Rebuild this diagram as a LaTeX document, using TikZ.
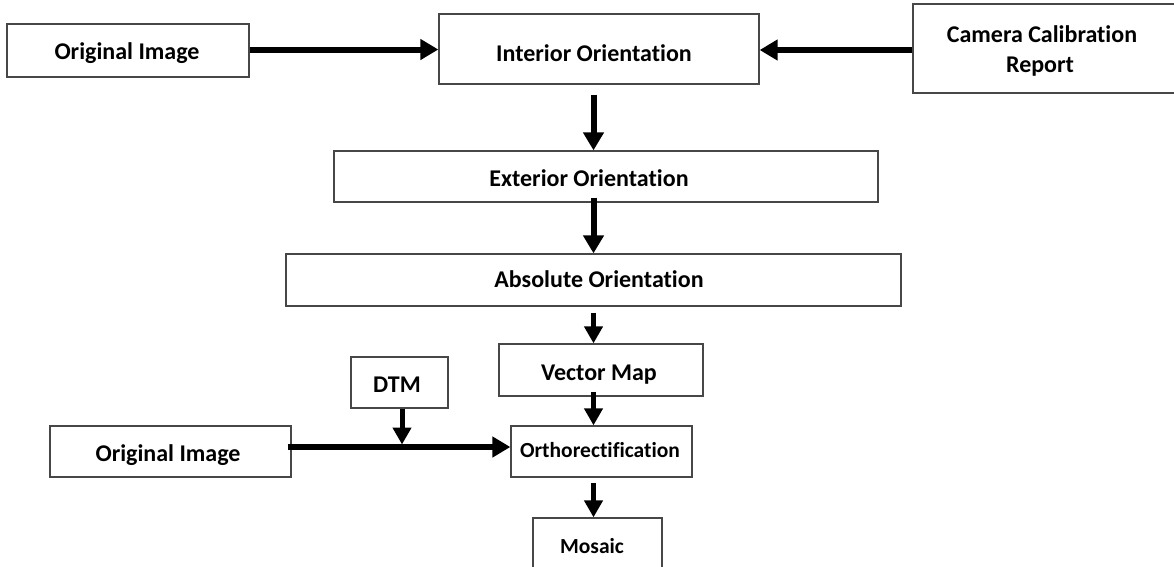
\documentclass[tikz,border=0pt]{standalone}
\usepackage{fontspec}
\setmainfont{Carlito}[Ligatures=NoCommon]
\usetikzlibrary{arrows.meta,calc}
\begin{document}
\begin{tikzpicture}[x=1pt,y=-1pt,
  box/.style={draw=black!72, line width=1.3pt, rectangle, inner sep=0pt},
  txt/.style={font=\fontsize{24}{30}\selectfont\bfseries, text=black, inner sep=0pt, align=center, anchor=base},
  stxt/.style={font=\fontsize{21.5}{27}\selectfont\bfseries, text=black, inner sep=0pt, align=center, anchor=base},
  arr/.style={line width=6pt, -{Triangle[length=18pt,width=20pt]}},
  sarr/.style={line width=5pt, -{Triangle[length=17pt,width=18pt]}}]
\useasboundingbox (0,0) rectangle (1174,566);
% boxes
\node[box, minimum width=242pt, minimum height=53pt] (oi1) at (128,50.5) {};
\node[box, minimum width=320pt, minimum height=70pt] (io) at (599,49) {};
\node[box, minimum width=263pt, minimum height=89pt] (ccr) at (1044.5,48.5) {};
\node[box, minimum width=544pt, minimum height=51pt] (eo) at (606,176.5) {};
\node[box, minimum width=615pt, minimum height=52pt] (ao) at (593.5,280) {};
\node[box, minimum width=204pt, minimum height=52pt] (vm) at (601,370) {};
\node[box, minimum width=97pt, minimum height=51pt] (dtm) at (399.5,382.5) {};
\node[box, minimum width=241pt, minimum height=51pt] (oi2) at (170.5,451.5) {};
\node[box, minimum width=181pt, minimum height=51pt] (ort) at (601.5,451.5) {};
\node[box, minimum width=129pt, minimum height=60pt] (mos) at (597.5,548) {};
% texts
\node[txt] (t1) at (127,59) {Original Image};
\node[txt] (t2) at (594,61) {Interior Orientation};
\node[txt] (t3a) at (1042,42) {Camera Calibration};
\node[txt] (t3b) at (1040,72) {Report};
\node[txt] (t4) at (589,186) {Exterior Orientation};
\node[txt] (t5) at (599,287) {Absolute Orientation};
\node[txt] (t6) at (599,380) {Vector Map};
\node[txt] (t7) at (397,392) {DTM};
\node[txt] (t8) at (168,461) {Original Image};
\node[stxt] (t9) at (600,457) {Orthorectification};
\node[stxt] (t10) at (592,553) {Mosaic};
% connectors
\coordinate (ax) at (593.5,0);
\draw[arr] ([yshift=1pt]oi1.east) -- ([yshift=1pt]oi1.east -| io.west);
\draw[arr] ([yshift=-1.5pt]ccr.west) -- ([yshift=-1.5pt]ccr.west -| io.east);
\draw[arr] ([yshift=-10pt]io.south -| ax) -- (eo.north -| ax);
\draw[arr] ([yshift=5pt]eo.south -| ax) -- (ao.north -| ax);
\draw[sarr] ([yshift=-6pt]ao.south -| ax) -- (vm.north -| ax);
\draw[sarr] ([yshift=5pt]vm.south -| ax) -- (ort.north -| ax);
\draw[sarr] ([yshift=-5pt]ort.south -| ax) -- (mos.north -| ax);
\coordinate (hl) at ([xshift=-4pt,yshift=4.5pt]oi2.east);
\draw[arr] (hl) -- (hl -| ort.west);
\draw[sarr, shorten >=2.5pt] ([xshift=2.5pt]dtm.south) -- ([xshift=2.5pt]dtm.south |- hl);
\end{tikzpicture}
\end{document}
